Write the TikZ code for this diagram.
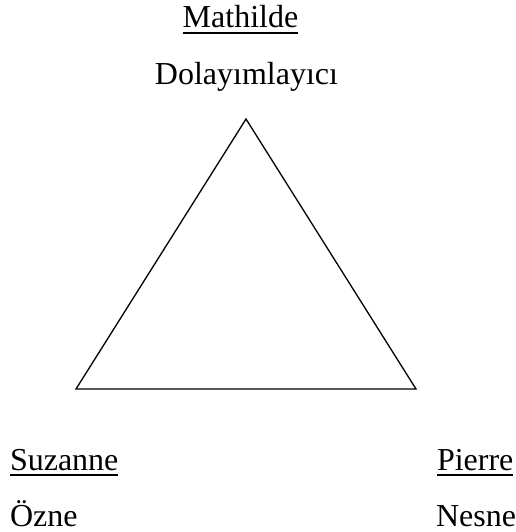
\documentclass[tikz,border=0pt]{standalone}
\usepackage{fontspec}
\setmainfont{Liberation Serif}
\begin{document}
\begin{tikzpicture}[x=1pt,y=-1pt,
  lbl/.style={inner sep=0pt,outer sep=0pt,font=\fontsize{32}{38}\selectfont},
  uline/.style={line width=1.6pt},
  tri/.style={line width=1.3pt,line join=miter}]
\useasboundingbox (0,0) rectangle (515,532);
\node[lbl,anchor=base] (mathilde) at (240.5,28) {Mathilde};
\node[lbl,anchor=base] (dolay) at (246.5,85) {Dolayımlayıcı};
\node[lbl,anchor=base west] (suzanne) at (10,470) {Suzanne};
\node[lbl,anchor=base west,text depth=0pt] (ozne) at (10,526) {Özne};
\node[lbl,anchor=base west] (pierre) at (437,470) {Pierre};
\node[lbl,anchor=base west,text depth=0pt] (nesne) at (436,526) {Nesne};
\draw[uline] ([yshift=-5pt]mathilde.base west) -- ([yshift=-5pt]mathilde.base east);
\draw[uline] ([yshift=-5pt]suzanne.base west) -- ([yshift=-5pt]suzanne.base east);
\draw[uline] ([yshift=-5pt]pierre.base west) -- ([yshift=-5pt]pierre.base east);
\coordinate (top) at (246,119);
\coordinate (bl) at (76,389);
\coordinate (br) at (416,389);
\draw[tri] (top) -- (bl) -- (br) -- cycle;
\end{tikzpicture}
\end{document}
